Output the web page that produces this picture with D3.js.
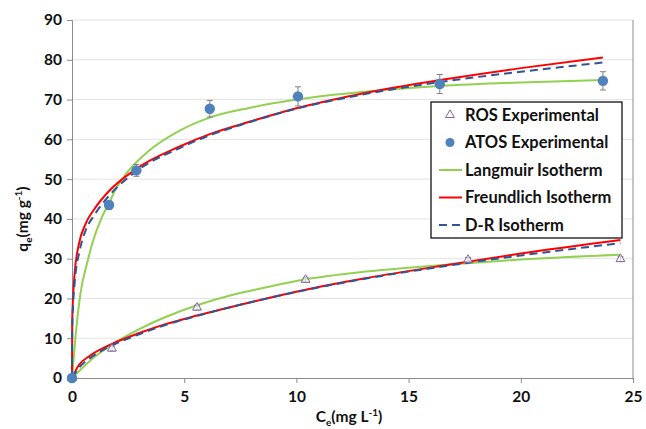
<!DOCTYPE html>
<html>
<head>
<meta charset="utf-8">
<script src="https://cdn.jsdelivr.net/npm/d3@7"></script>
<style>
  body { margin: 0; background: #fff; }
  svg { display: block; font-family: Lato, "Open Sans", sans-serif; font-weight: bold; }
</style>
</head>
<body>
<div id="chart"></div>
<script>
const width = 646;
const height = 429;
const margin = { top: 20, right: 13, bottom: 51, left: 72 };

// experimental points
const rosCe = [0, 1.78, 5.57, 10.41, 17.65, 24.44];
const rosQe = [0, 7.4, 17.7, 24.7, 29.7, 29.9];
const rosErr = [0, 0.6, 0.6, 0.6, 0.6, 0.6];

const atosCe = [0, 1.65, 2.87, 6.14, 10.07, 16.39, 23.66];
const atosQe = [0, 43.5, 52.2, 67.7, 70.8, 73.9, 74.7];
const atosErr = [0, 1.0, 1.5, 2.1, 2.4, 2.4, 2.3];

// model curves as [Ce, qe]
const atosLangmuir = [[0, 0], [0.15, 10], [0.37, 21], [0.7, 29.5], [0.94, 34.5], [1.3, 40], [1.65, 44],
  [2, 48], [2.5, 52], [3.4, 57], [4.8, 62.2], [6.1, 65.4], [7.9, 67.9], [10, 70], [13.9, 72.4],
  [16.4, 73.4], [20, 74.3], [23.66, 74.9]];
const atosFreundlich = [[0, 0], [0.01, 14], [0.05, 20.5], [0.12, 26.5], [0.3, 33.5], [0.6, 38.7],
  [1, 42.5], [1.65, 47], [2.87, 52.6], [4.8, 58.2], [6.14, 61.3], [7.9, 64.4], [10, 67.8],
  [13, 71.6], [16.39, 74.9], [20, 77.9], [23.66, 80.6]];
const atosDR = [[0, 0], [0.01, 12], [0.05, 18.5], [0.12, 24], [0.34, 32], [0.6, 37], [1, 41],
  [1.65, 45.8], [2.87, 52], [4.8, 57.8], [6.14, 61], [7.9, 64.3], [10, 67.7], [13, 71.3],
  [16.39, 74.4], [20, 77], [23.66, 79.3]];

const rosLangmuir = [[0, 0], [1, 5.3], [1.83, 8.6], [3, 12.3], [4.2, 15.4], [5.57, 18.3], [7, 20.7],
  [8.5, 22.6], [10.41, 24.8], [13, 26.7], [16.24, 28.3], [20, 29.8], [24.44, 31]];
const rosFreundlich = [[0, 0], [0.3, 3.2], [0.8, 5.6], [1.83, 8.7], [3, 11.3], [4.2, 13.6],
  [5.57, 15.7], [7.92, 19], [10.41, 22.2], [13, 25], [16.24, 28], [20, 31.3], [24.44, 34.7]];
const rosDR = [[0, 0], [0.3, 2.5], [0.8, 5], [1.83, 8.3], [3, 11], [4.2, 13.4], [5.57, 15.6],
  [7.92, 19], [10.41, 22.1], [13, 24.9], [16.24, 27.8], [20, 30.8], [24.44, 33.9]];

const xTicks = [0, 5, 10, 15, 20, 25];
const yTicks = [0, 10, 20, 30, 40, 50, 60, 70, 80, 90];

const legendItems = [
  { label: "ROS Experimental", type: "triangle" },
  { label: "ATOS Experimental", type: "circle" },
  { label: "Langmuir Isotherm", type: "line", color: "#92D050" },
  { label: "Freundlich Isotherm", type: "line", color: "#FF0000" },
  { label: "D-R Isotherm", type: "dash", color: "#2F5597" },
];

const svg = d3.select("#chart").append("svg")
  .attr("width", width)
  .attr("height", height);

const x = d3.scaleLinear().domain([0, 25]).range([margin.left, width - margin.right]);
const y = d3.scaleLinear().domain([0, 90]).range([height - margin.bottom, margin.top]);

const axisColor = "#8C8C8C";

// gridlines
svg.append("g")
  .selectAll("line")
  .data(yTicks.slice(1))
  .join("line")
  .attr("x1", x(0)).attr("x2", x(25))
  .attr("y1", d => y(d)).attr("y2", d => y(d))
  .attr("stroke", "#E3E3E3");

// right border
svg.append("line")
  .attr("x1", x(25)).attr("x2", x(25))
  .attr("y1", y(0)).attr("y2", y(90))
  .attr("stroke", axisColor);

// axes
const xAxis = svg.append("g")
  .attr("transform", `translate(0,${y(0)})`)
  .call(d3.axisBottom(x).tickValues(xTicks).tickSize(5).tickPadding(8));
const yAxis = svg.append("g")
  .attr("transform", `translate(${x(0)},0)`)
  .call(d3.axisLeft(y).tickValues(yTicks).tickSize(5).tickPadding(5));

[xAxis, yAxis].forEach(g => {
  g.select(".domain").attr("stroke", axisColor);
  g.selectAll(".tick line").attr("stroke", axisColor);
  g.selectAll(".tick text")
    .attr("fill", "#111")
    .style("font-size", "15.5px")
    .style("font-family", "Lato, sans-serif")
    .style("font-weight", "bold");
});

// axis titles
const xt = svg.append("text")
  .attr("x", 349).attr("y", 422)
  .attr("text-anchor", "middle")
  .style("font-size", "15.5px")
  .attr("fill", "#111");
xt.append("tspan").text("C");
xt.append("tspan").attr("dy", 4).style("font-size", "10px").text("e");
xt.append("tspan").attr("dy", -4).text("(mg L");
xt.append("tspan").attr("dy", -6).style("font-size", "10px").text("-1");
xt.append("tspan").attr("dy", 6).text(")");

const yt = svg.append("text")
  .attr("transform", "translate(28,219) rotate(-90)")
  .attr("text-anchor", "middle")
  .style("font-size", "15.5px")
  .attr("fill", "#111");
yt.append("tspan").text("q");
yt.append("tspan").attr("dy", 4).style("font-size", "10px").text("e");
yt.append("tspan").attr("dy", -4).text("(mg g");
yt.append("tspan").attr("dy", -6).style("font-size", "10px").text("-1");
yt.append("tspan").attr("dy", 6).text(")");

// curves
const line = d3.line()
  .x(d => x(d[0]))
  .y(d => y(d[1]))
  .curve(d3.curveMonotoneX);

const curves = [
  { data: rosLangmuir, color: "#92D050" },
  { data: atosLangmuir, color: "#92D050" },
  { data: rosFreundlich, color: "#FF0000" },
  { data: atosFreundlich, color: "#FF0000" },
  { data: rosDR, color: "#2F5597", dash: "8,5" },
  { data: atosDR, color: "#2F5597", dash: "8,5" },
];

svg.append("g")
  .selectAll("path")
  .data(curves)
  .join("path")
  .attr("d", d => line(d.data))
  .attr("fill", "none")
  .attr("stroke", d => d.color)
  .attr("stroke-width", 2)
  .attr("stroke-dasharray", d => d.dash || null);

// error bars
function errorBars(ce, qe, err) {
  const g = svg.append("g").attr("stroke", "#7F7F7F").attr("stroke-width", 1);
  const idx = d3.range(ce.length).filter(i => err[i] > 0);
  g.selectAll(".v").data(idx).join("line")
    .attr("x1", i => x(ce[i])).attr("x2", i => x(ce[i]))
    .attr("y1", i => y(qe[i] - err[i])).attr("y2", i => y(qe[i] + err[i]));
  [-1, 1].forEach(s => {
    g.selectAll(null).data(idx).join("line")
      .attr("x1", i => x(ce[i]) - 3).attr("x2", i => x(ce[i]) + 3)
      .attr("y1", i => y(qe[i] + s * err[i])).attr("y2", i => y(qe[i] + s * err[i]));
  });
}
errorBars(rosCe, rosQe, rosErr);
errorBars(atosCe, atosQe, atosErr);

// points
const tri = d3.symbol().type(d3.symbolTriangle).size(34);
svg.append("g")
  .selectAll("path")
  .data(d3.range(rosCe.length))
  .join("path")
  .attr("transform", i => `translate(${x(rosCe[i])},${y(rosQe[i])})`)
  .attr("d", tri)
  .attr("fill", "#fff")
  .attr("fill-opacity", 0.6)
  .attr("stroke", "#8064A2")
  .attr("stroke-width", 1);

svg.append("g")
  .selectAll("circle")
  .data(d3.range(atosCe.length))
  .join("circle")
  .attr("cx", i => x(atosCe[i]))
  .attr("cy", i => y(atosQe[i]))
  .attr("r", 5.2)
  .attr("fill", "#4F81BD");

// legend
const lg = svg.append("g").attr("transform", "translate(431,102)");
lg.append("rect")
  .attr("width", 191).attr("height", 136)
  .attr("fill", "#fff")
  .attr("stroke", "#111")
  .attr("stroke-width", 1.3);

const rowY = i => 13 + i * 27.5;
legendItems.forEach((d, i) => {
  const cy = rowY(i);
  if (d.type === "triangle") {
    lg.append("path")
      .attr("transform", `translate(19,${cy})`)
      .attr("d", tri)
      .attr("fill", "#fff")
      .attr("stroke", "#8064A2");
  } else if (d.type === "circle") {
    lg.append("circle").attr("cx", 19).attr("cy", cy).attr("r", 4.5).attr("fill", "#4F81BD");
  } else {
    lg.append("line")
      .attr("x1", 8).attr("x2", 31)
      .attr("y1", cy).attr("y2", cy)
      .attr("stroke", d.color)
      .attr("stroke-width", 2)
      .attr("stroke-dasharray", d.type === "dash" ? "8,5" : null);
  }
  lg.append("text")
    .attr("x", 34).attr("y", cy)
    .attr("dy", "0.36em")
    .style("font-size", "16.5px")
    .attr("fill", "#111")
    .text(d.label);
});
</script>
</body>
</html>
